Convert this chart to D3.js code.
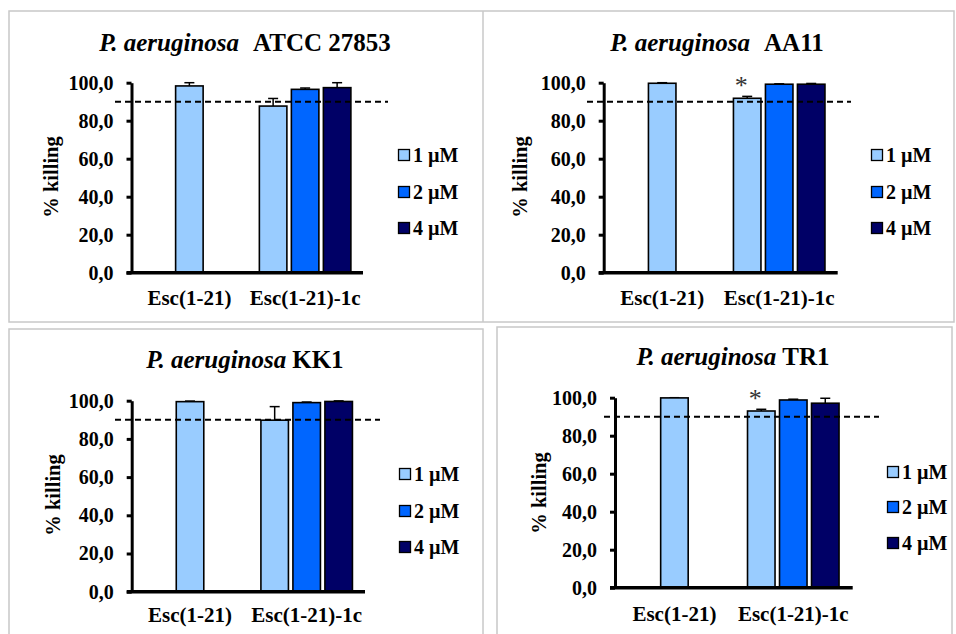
<!DOCTYPE html>
<html>
<head>
<meta charset="utf-8">
<script src="https://cdn.jsdelivr.net/npm/d3@7"></script>
<style>
  body { margin: 0; background: #fff; }
  svg { display: block; }
</style>
</head>
<body>
<div id="chart"></div>
<script>
// data
const categories = ["Esc(1-21)", "Esc(1-21)-1c"];
const doses = ["1 µM", "2 µM", "4 µM"];
const doseColors = ["#99ccff", "#0066ff", "#000066"];
const strainNames = ["ATCC 27853", "AA11", "KK1", "TR1"];
const escKilling = [98.3, 99.7, 99.5, 99.9];
const escError = [1.7, 0.3, 0.3, 0.1];
const esc1cKilling = [
    [87.7, 96.5, 97.4],
    [91.8, 99.2, 99.2],
    [89.8, 99.0, 99.6],
    [93.0, 98.8, 97.1]
];
const esc1cError = [
    [4.0, 0.7, 2.6],
    [1.0, 0.2, 0.4],
    [7.1, 0.3, 0.3],
    [0.9, 0.4, 2.6]
];
const significant = [
    [false, false, false],
    [true, false, false],
    [false, false, false],
    [true, false, false]
];
const yTicks = [0, 20, 40, 60, 80, 100];
const threshold = 90;

// panel placement (pixels)
const layout = [
    { left: 131.5, right: 363, bottom: 272.7, top: 82.7, dash: [115, 388], titleX: 245, titleY: 51, gap: 14,
      ylabX: 58, ylabY: 177, legX: 398, legY: [155, 192, 228], catPad: 17 },
    { left: 603.7, right: 837.7, bottom: 272.7, top: 82.7, dash: [587, 851], titleX: 717, titleY: 51, gap: 14,
      ylabX: 527, ylabY: 177, legX: 871, legY: [155, 192, 228], catPad: 17 },
    { left: 131.7, right: 365, bottom: 591.7, top: 400.7, dash: [115, 380], titleX: 245, titleY: 368, gap: 6,
      ylabX: 60, ylabY: 495, legX: 399, legY: [474, 511, 547], catPad: 15 },
    { left: 615, right: 852.7, bottom: 587.7, top: 397.7, dash: [604, 879], titleX: 733, titleY: 365, gap: 6,
      ylabX: 546, ylabY: 493, legX: 887, legY: [472, 507, 543], catPad: 18 }
];

const width = 956, height = 634;
const serif = '"Liberation Serif", "Times New Roman", Times, serif';

const svg = d3.select('#chart')
    .append('svg')
    .attr('width', width)
    .attr('height', height)
    .style('font-family', serif);

// panel frames
const frame = svg.append('g')
    .attr('fill', 'none')
    .attr('stroke', '#c8c8c8')
    .attr('stroke-width', 1.5);
frame.append('rect').attr('x', 9).attr('y', 11).attr('width', 945).attr('height', 311);
frame.append('line').attr('x1', 483).attr('x2', 483).attr('y1', 11).attr('y2', 322);
frame.append('rect').attr('x', 9).attr('y', 329).attr('width', 474).attr('height', 320);
frame.append('rect').attr('x', 497).attr('y', 327).attr('width', 455).attr('height', 320);

const fmt = d => d.toFixed(1).replace('.', ',');

strainNames.forEach((name, i) => {
    const L = layout[i];
    const g = svg.append('g');

    // scales
    const y = d3.scaleLinear()
        .domain([0, 100])
        .range([L.bottom, L.top]);

    const x = d3.scaleBand()
        .domain(categories)
        .range([L.left, L.right]);

    const xDose = d3.scaleBand()
        .domain(doses)
        .range([-48, 48])
        .paddingInner(0.14)
        .paddingOuter(0.07);

    const bw = xDose.bandwidth();

    // bars: one for Esc(1-21), three for Esc(1-21)-1c
    const bars = [{ cx: x(categories[0]) + x.bandwidth() / 2, v: escKilling[i], e: escError[i], c: doseColors[0], star: false }];
    doses.forEach((d, j) => {
        bars.push({
            cx: x(categories[1]) + x.bandwidth() / 2 + xDose(d) + bw / 2,
            v: esc1cKilling[i][j],
            e: esc1cError[i][j],
            c: doseColors[j],
            star: significant[i][j]
        });
    });

    // error bars (upper half)
    const err = g.append('g')
        .attr('stroke', '#000')
        .attr('stroke-width', 1.5);
    err.selectAll('line.v')
        .data(bars)
        .enter().append('line')
        .attr('x1', d => d.cx).attr('x2', d => d.cx)
        .attr('y1', d => y(d.v)).attr('y2', d => y(d.v + d.e));
    err.selectAll('line.cap')
        .data(bars)
        .enter().append('line')
        .attr('x1', d => d.cx - 5).attr('x2', d => d.cx + 5)
        .attr('y1', d => y(d.v + d.e)).attr('y2', d => y(d.v + d.e));

    g.selectAll('rect.bar')
        .data(bars)
        .enter().append('rect')
        .attr('x', d => d.cx - bw / 2)
        .attr('y', d => y(d.v))
        .attr('width', bw)
        .attr('height', d => L.bottom - y(d.v))
        .attr('fill', d => d.c)
        .attr('stroke', '#000')
        .attr('stroke-width', 1.6);

    // asterisks
    g.selectAll('text.star')
        .data(bars.filter(d => d.star))
        .enter().append('text')
        .attr('x', d => d.cx - 6)
        .attr('y', d => y(d.v + d.e) - 2)
        .attr('text-anchor', 'middle')
        .attr('font-size', 26)
        .attr('fill', '#333')
        .text('*');

    // axes
    const yAxis = d3.axisLeft(y)
        .tickValues(yTicks)
        .tickSize(5)
        .tickSizeOuter(0)
        .tickPadding(13)
        .tickFormat(fmt);

    const xAxis = d3.axisBottom(x)
        .tickSize(0)
        .tickSizeOuter(0)
        .tickPadding(L.catPad);

    const xAxisGroup = g.append('g')
        .attr('transform', `translate(0, ${ L.bottom })`)
        .call(xAxis)
        .attr('font-family', serif);
    const yAxisGroup = g.append('g')
        .attr('transform', `translate(${ L.left }, 0)`)
        .call(yAxis)
        .attr('font-family', serif);

    xAxisGroup.select('path.domain')
        .attr('stroke', '#000')
        .attr('stroke-width', 3.5)
        .attr('d', `M${ L.left - 5 },0H${ L.right }`);
    xAxisGroup.selectAll('text')
        .attr('font-size', 21)
        .attr('font-weight', 'bold')
        .attr('fill', '#000');

    yAxisGroup.select('path.domain')
        .attr('stroke', '#000')
        .attr('stroke-width', 3);
    yAxisGroup.selectAll('line')
        .attr('stroke', '#000')
        .attr('stroke-width', 3);
    yAxisGroup.selectAll('text')
        .attr('font-size', 20)
        .attr('font-weight', 'bold')
        .attr('fill', '#000');

    // 90% threshold
    g.append('line')
        .attr('x1', L.dash[0]).attr('x2', L.dash[1])
        .attr('y1', y(threshold)).attr('y2', y(threshold))
        .attr('stroke', '#000')
        .attr('stroke-width', 2)
        .attr('stroke-dasharray', '6,4');

    // y title
    g.append('text')
        .attr('transform', `translate(${ L.ylabX }, ${ L.ylabY }) rotate(-90)`)
        .attr('text-anchor', 'middle')
        .attr('font-size', 20.5)
        .attr('font-weight', 'bold')
        .text('% killing');

    // chart title
    const title = g.append('text')
        .attr('x', L.titleX)
        .attr('y', L.titleY)
        .attr('text-anchor', 'middle')
        .attr('font-size', 25)
        .attr('font-weight', 'bold');
    title.append('tspan').attr('font-style', 'italic').text('P. aeruginosa');
    title.append('tspan').attr('dx', L.gap).text(name);

    // legend
    const leg = g.selectAll('g.leg')
        .data(doses)
        .enter().append('g')
        .attr('transform', (d, j) => `translate(${ L.legX }, ${ L.legY[j] })`);
    leg.append('rect')
        .attr('x', 0.5).attr('y', -5.5)
        .attr('width', 11).attr('height', 11)
        .attr('fill', (d, j) => doseColors[j])
        .attr('stroke', '#000')
        .attr('stroke-width', 1.3);
    leg.append('text')
        .attr('x', 15)
        .attr('y', 7)
        .attr('font-size', 20)
        .attr('font-weight', 'bold')
        .text(d => d);
});
</script>
</body>
</html>
